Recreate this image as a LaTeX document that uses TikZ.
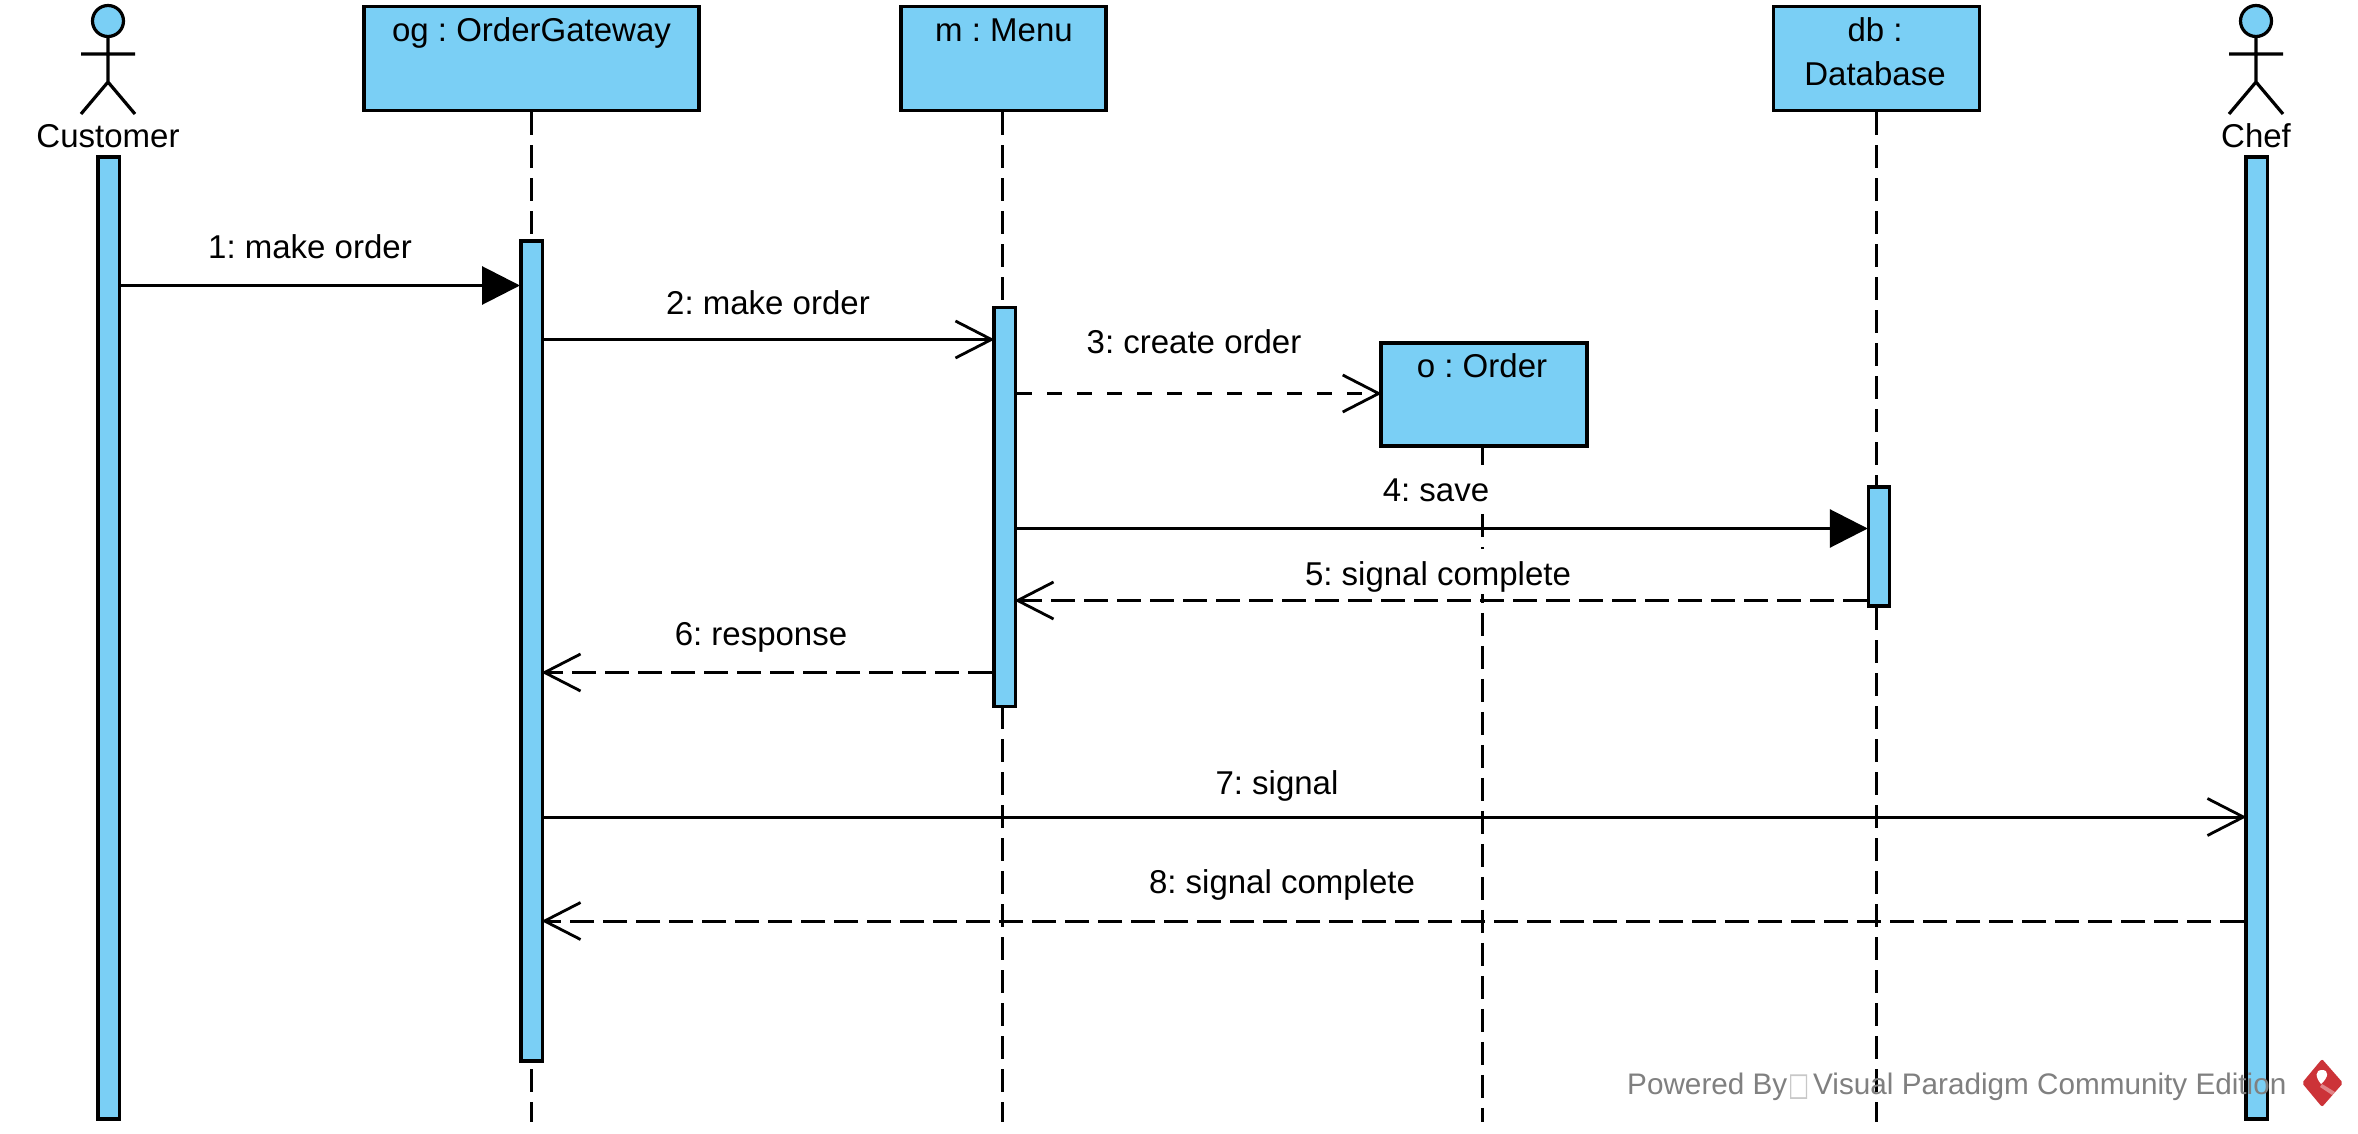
\documentclass[tikz,border=0pt]{standalone}
\usepackage{fontspec}
\setmainfont{Liberation Sans}
\newfontfamily\symfont{DejaVu Sans}
\usetikzlibrary{arrows.meta}
\definecolor{umlblue}{HTML}{7ACFF5}
\definecolor{wmgray}{HTML}{808080}
\definecolor{wmbox}{HTML}{C8C8C8}
\definecolor{vpred}{HTML}{CC3338}
\frenchspacing
\tikzset{
  objbox/.style={draw=black,line width=3.5pt,fill=umlblue,inner sep=0pt},
  barbox/.style={draw=black,line width=3.5pt,fill=umlblue,inner sep=0pt,minimum width=21.5pt},
  title/.style={inner sep=0pt,anchor=base,font=\fontsize{33}{40}\selectfont},
  msglabel/.style={inner ysep=0pt,inner xsep=3pt,anchor=base,fill=white,text height=36pt,text depth=9pt,font=\fontsize{33}{40}\selectfont},
  lifeline/.style={line width=3pt,dash pattern=on 23pt off 10pt},
  msg/.style={line width=3pt},
  ret/.style={line width=3pt,dash pattern=on 24pt off 9pt},
  create/.style={line width=3pt,dash pattern=on 15pt off 15pt},
  solidtip/.style={-{Triangle[length=38pt,width=38pt]},shorten >=-1pt},
  opentip/.style={-{Straight Barb[length=36pt,width=37pt,line width=2.8pt]},shorten >=-2.5pt},
  watermark/.style={inner sep=0pt,anchor=base west,text=wmgray,font=\fontsize{29.7}{36}\selectfont},
}
\newcommand{\umlactor}[1]{%
  \draw[line width=3.2pt,fill=umlblue] (#1,21) ellipse [x radius=15.5,y radius=15.5];
  \draw[line width=3.2pt] (#1,37) -- (#1,82) (#1-27,54) -- (#1+27,54)
     (#1-27,114) -- (#1,82) -- (#1+27,114);
}
\begin{document}
\begin{tikzpicture}[x=1pt,y=-1pt]
\useasboundingbox (0,0) rectangle (2358,1134);
\fill[white] (0,0) rectangle (2358,1134);
% object boxes
\node[objbox,minimum width=335pt,minimum height=104pt] (og) at (531.5,58.5) {};
\node[objbox,minimum width=205pt,minimum height=104pt] (m) at (1003.5,58.5) {};
\node[objbox,minimum width=206pt,minimum height=104pt] (db) at (1876.5,58.5) {};
\node[objbox,minimum width=206pt,minimum height=103pt] (o) at (1484,394.5) {};
% lifelines
\coordinate (ogend) at (531,1122);
\coordinate (mend) at (1002,1122);
\coordinate (dbend) at (1876,1122);
\coordinate (oend) at (1482.5,1122);
\draw[lifeline] (og.south -| ogend) -- (ogend);
\draw[lifeline] (m.south -| mend) -- (mend);
\draw[lifeline] (db.south -| dbend) -- (dbend);
\draw[lifeline] (o.south -| oend) -- (oend);
% activation bars
\node[barbox,minimum height=962pt] (cbar) at (108.5,638) {};
\node[barbox,minimum height=962pt] (chbar) at (2256.5,638) {};
\node[barbox,minimum height=820pt] (ogbar) at (531.5,651) {};
\node[barbox,minimum height=399pt] (mbar) at (1004.5,507) {};
\node[barbox,minimum width=21pt,minimum height=119pt] (dbbar) at (1879,546.5) {};
% actors
\umlactor{108}
\umlactor{2256}
\node[title] (custname) at (108,147.5) {Customer};
\node[title] (chefname) at (2256,147.5) {Chef};
% object titles
\node[title] (ogt) at (531.5,41.5) {og : OrderGateway};
\node[title] (mt) at (1004,41.5) {m : Menu};
\node[title] (dbt1) at (1875,41.5) {db :};
\node[title] (dbt2) at (1875,86) {Database};
\node[title] (ot) at (1482,377.5) {o : Order};
% message labels
\node[msglabel] (l1) at (310,258.5) {1: make order};
\node[msglabel] (l2) at (768,314.5) {2: make order};
\node[msglabel] (l3) at (1194,353.5) {3: create order};
\node[msglabel] (l4) at (1436,501) {4: save};
\node[msglabel] (l5) at (1438,585) {5: signal complete};
\node[msglabel] (l6) at (761,645) {6: response};
\node[msglabel] (l7) at (1277,794) {7: signal};
\node[msglabel] (l8) at (1282,893) {8: signal complete};
% messages
\draw[msg,solidtip] (cbar.east |- 0,285.5) -- (ogbar.west |- 0,285.5);
\draw[msg,opentip] (ogbar.east |- 0,339.5) -- (mbar.west |- 0,339.5);
\draw[create,opentip] (mbar.east |- 0,393.5) -- (o.west |- 0,393.5);
\draw[msg,solidtip] (mbar.east |- 0,528.5) -- (dbbar.west |- 0,528.5);
\draw[ret,opentip] (dbbar.west |- 0,600.5) -- (mbar.east |- 0,600.5);
\draw[ret,opentip] (mbar.west |- 0,672.5) -- (ogbar.east |- 0,672.5);
\draw[msg,opentip] (ogbar.east |- 0,817) -- (chbar.west |- 0,817);
\draw[ret,opentip] (chbar.west |- 0,921) -- (ogbar.east |- 0,921);
% watermark
\node[watermark] (wm1) at (1627,1094) {Powered By};
\node[inner sep=0pt,anchor=base,text=wmbox,xscale=.8,yscale=1.15,font=\symfont\fontsize{28}{30}\selectfont] (wm2) at (1799,1095) {□};
\node[watermark] (wm3) at (1813,1094) {Visual Paradigm Community Edition};
% logo
\fill[vpred,rounded corners=2pt] (2322,1059) -- (2343,1083) -- (2322,1107) -- (2302,1083) -- cycle;
\fill[white] (2321,1084) .. controls (2315,1077) and (2315,1070) .. (2322,1070) .. controls (2329,1070) and (2329,1077) .. (2321,1084) -- cycle;
\fill[white,opacity=.4] (2322,1084) -- (2335,1092) -- (2332,1095) -- (2320,1087) -- cycle;
\end{tikzpicture}
\end{document}
